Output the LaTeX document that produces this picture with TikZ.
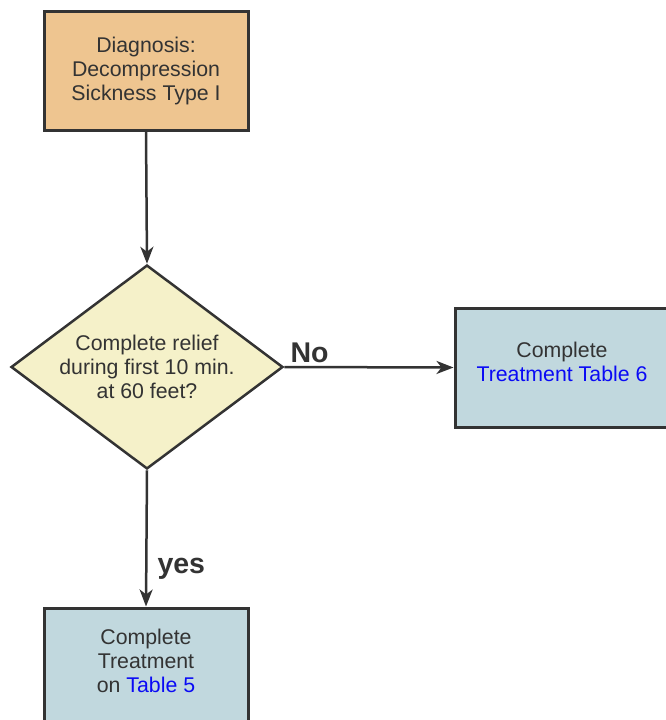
\documentclass[tikz,border=0pt]{standalone}
\usepackage{fontspec}
\setmainfont{Liberation Sans}
\usetikzlibrary{shapes.geometric,arrows.meta}
\definecolor{ink}{HTML}{333333}
\definecolor{tanfill}{HTML}{EEC590}
\definecolor{yelfill}{HTML}{F5F1C9}
\definecolor{bluefill}{HTML}{C1D8DE}
\definecolor{linkblue}{HTML}{0A0AF5}
\tikzset{
  txt/.style={text=ink, font=\fontsize{21.3}{24}\selectfont, align=center},
  boxbase/.style={draw=ink, line width=3pt, rectangle, inner sep=0pt, txt},
  tanbox/.style={boxbase, fill=tanfill},
  bluebox/.style={boxbase, fill=bluefill},
  decision/.style={draw=ink, line width=2.5pt, diamond, fill=yelfill, inner sep=0pt,
     aspect=1.333, minimum width=272pt, minimum height=204pt, txt},
  conn/.style={draw=ink, line width=2.5pt, -{Stealth[length=17pt,width=13pt,inset=5pt]}},
  lbl/.style={text=ink, font=\fontsize{28.5}{30}\selectfont\bfseries, inner sep=0pt}
}
\begin{document}
\begin{tikzpicture}[x=1pt,y=-1pt]
\useasboundingbox (0,0) rectangle (666,720);
\begin{scope}
\clip (0,0) rectangle (666,720);
\node[tanbox, minimum width=204pt, minimum height=119pt] (diag) at (146,70.5)
  {Diagnosis:\\Decompression\\Sickness Type I};
\node[decision] (q) at (147,367)
  {Complete relief\\during first 10 min.\\at 60 feet?};
\node[bluebox, minimum width=214pt, minimum height=119pt] (t6) at (562,367.5) {};
\node[txt, inner sep=0pt] (t6t) at (562,362)
  {Complete\\\textcolor{linkblue}{Treatment Table 6}};
\node[bluebox, minimum width=204pt, minimum height=119pt] (t5) at (146,667.5) {};
\node[txt, inner sep=0pt] (t5t) at (146,661)
  {Complete\\Treatment\\on \textcolor{linkblue}{Table 5}};
\draw[conn] (diag.south) -- (q.north);
\draw[conn] (q.east) -- (t6.west) node[lbl, pos=0.03, anchor=south west, yshift=3pt] (no) {No};
\draw[conn] (q.south) -- (t5.north) node[lbl, pos=0.72, anchor=west, xshift=10pt] (yes) {yes};
\end{scope}
\end{tikzpicture}
\end{document}
